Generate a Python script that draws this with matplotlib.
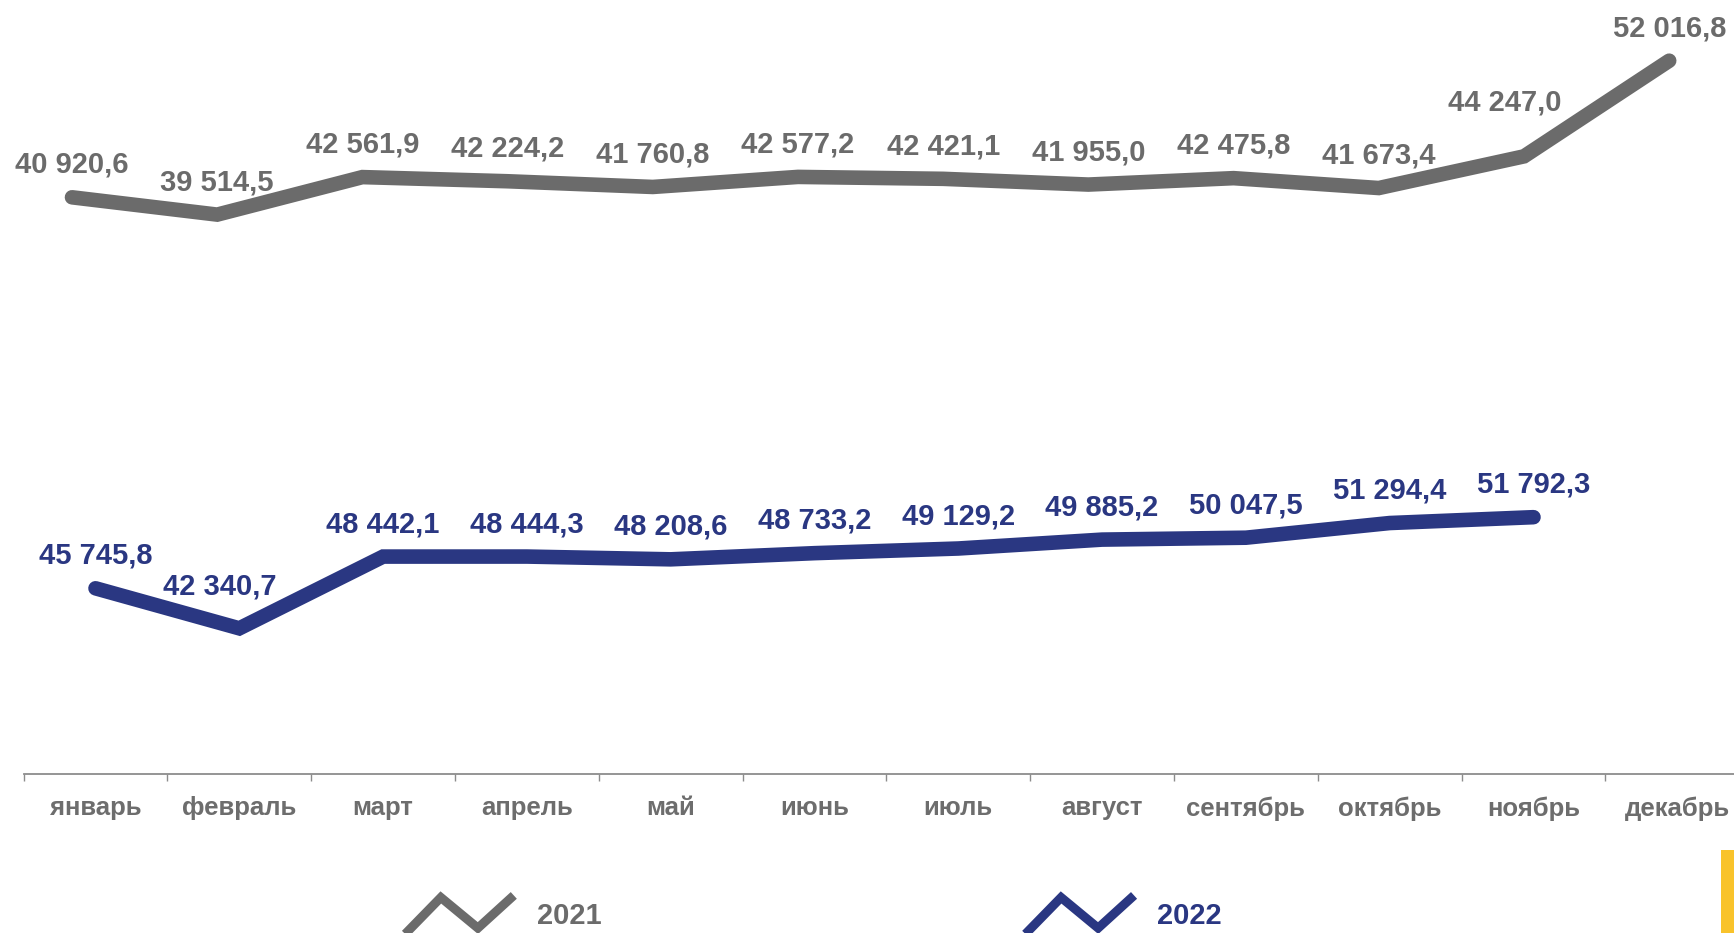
import matplotlib
matplotlib.use("Agg")
import matplotlib.pyplot as plt
import numpy as np
from matplotlib.lines import Line2D
from matplotlib.legend_handler import HandlerLine2D
from matplotlib.patches import Rectangle

plt.rcParams['font.family'] = ['Liberation Sans', 'DejaVu Sans']

### DATA ###

months = ["январь", "февраль", "март", "апрель", "май", "июнь",
          "июль", "август", "сентябрь", "октябрь", "ноябрь", "декабрь"]
values_2021 = [40920.6, 39514.5, 42561.9, 42224.2, 41760.8, 42577.2,
               42421.1, 41955.0, 42475.8, 41673.4, 44247.0, 52016.8]
values_2022 = [45745.8, 42340.7, 48442.1, 48444.3, 48208.6, 48733.2,
               49129.2, 49885.2, 50047.5, 51294.4, 51792.3]
series_names = ["2021", "2022"]

### STYLE ###

W, H, DPI = 1734, 933, 100
GREY = "#6b6b6b"
BLUE = "#2a3782"
AXIS_GREY = "#8c8c8c"
PX = 72.0 / DPI  # pixels -> points

# label offsets (pixels) where the original moved a label off its default spot
shift_2021 = {10: (-19, 21)}
shift_2022 = {1: (-20, 9)}


def fmt(v):
    return f"{v:,.1f}".replace(",", " ").replace(".", ",")


class ZigzagHandler(HandlerLine2D):
    # legend key drawn as a zigzag stroke
    def create_artists(self, legend, orig_handle, xdescent, ydescent,
                       width, height, fontsize, trans):
        fx = [0.0, 0.37, 0.69, 1.0]
        fy = [-0.85, 1.3, -0.2, 1.4]
        line = Line2D([-xdescent + f * width for f in fx],
                      [-ydescent + f * height for f in fy],
                      color=orig_handle.get_color(),
                      lw=orig_handle.get_linewidth(),
                      solid_joinstyle="miter", solid_capstyle="butt")
        line.set_transform(trans)
        return [line]


### PLOT ###

fig = plt.figure(figsize=(W / DPI, H / DPI), dpi=DPI)
rect = [23.6 / W, (H - 773.5) / H, 1725.6 / W, 773.5 / H]

ax = fig.add_axes(rect)
ax.set_xlim(-0.5, 11.5)
ax.set_ylim(30000, 30000 + 773.5 / 0.011762)

# 2021 sits on its own (secondary) scale in the original
ax2 = fig.add_axes(rect, label="secondary")
ax2.set_xlim(-0.3333, 11.551)
ax2.set_ylim(-5883, 56947)
ax2.axis("off")
ax2.patch.set_visible(False)

x22 = np.arange(len(values_2022))
x21 = np.arange(len(values_2021))

ax.plot(x22, values_2022, color=BLUE, lw=10.5, solid_capstyle="round",
        solid_joinstyle="miter", clip_on=False)
ax2.plot(x21, values_2021, color=GREY, lw=10.5, solid_capstyle="round",
         solid_joinstyle="miter", clip_on=False)

for i, v in enumerate(values_2022):
    dx, dy = shift_2022.get(i, (0, 0))
    ax.annotate(fmt(v), (x22[i], v), xytext=(dx * PX, (24.5 + dy) * PX),
                textcoords="offset points", ha="center", va="baseline",
                fontsize=21, fontweight="bold", color=BLUE, annotation_clip=False)

for i, v in enumerate(values_2021):
    dx, dy = shift_2021.get(i, (0, 0))
    ax2.annotate(fmt(v), (x21[i], v), xytext=(dx * PX, (24.5 + dy) * PX),
                 textcoords="offset points", ha="center", va="baseline",
                 fontsize=21, fontweight="bold", color=GREY, annotation_clip=False)

# axis cosmetics
for side in ["left", "right", "top"]:
    ax.spines[side].set_visible(False)
ax.spines["bottom"].set_color(AXIS_GREY)
ax.spines["bottom"].set_linewidth(1.3)
ax.set_yticks([])
ax.set_xticks(np.arange(len(months)))
ax.set_xticklabels(months, fontsize=18.5, fontweight="bold", color="#6d6d6d")
ax.tick_params(axis="x", which="major", length=0, pad=16.3)
ax.set_xticks(np.arange(-0.5, len(months), 1), minor=True)
ax.tick_params(axis="x", which="minor", length=5, width=1, color=AXIS_GREY)
ax.patch.set_visible(False)

handles = [Line2D([], [], color=GREY, lw=6.5), Line2D([], [], color=BLUE, lw=6.5)]
fig.legend(handles, series_names, handler_map={Line2D: ZigzagHandler()},
           ncol=2, frameon=False, loc="lower left",
           bbox_to_anchor=(398 / W, 3.0 / H), borderpad=0, borderaxespad=0,
           handlelength=3.97, handleheight=0.7, handletextpad=0.8,
           columnspacing=14.28, labelcolor="linecolor",
           prop={"size": 21, "weight": "bold"})

# yellow corner mark
fig.add_artist(Rectangle((1721 / W, 0), (W - 1721) / W, 83 / H,
                         transform=fig.transFigure, color="#f9c32b", lw=0))

fig.savefig("out.png", dpi=DPI)
